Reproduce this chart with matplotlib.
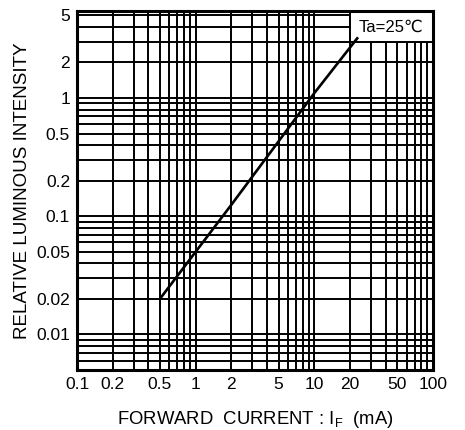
import matplotlib.pyplot as plt
from matplotlib.patches import Rectangle
from matplotlib.ticker import NullFormatter

plt.rcParams['font.family'] = ['Liberation Sans', 'DejaVu Sans']

# forward current (mA) vs relative luminous intensity
current = [0.5, 1, 2, 5, 10, 23]
intensity = [0.02, 0.05, 0.125, 0.43, 1.1, 3.2]

x_ticks = [0.1, 0.2, 0.5, 1, 2, 5, 10, 20, 50, 100]
x_labels = ['0.1', '0.2', '0.5', '1', '2', '5', '10', '20', '50', '100']
y_ticks = [0.01, 0.02, 0.05, 0.1, 0.2, 0.5, 1, 2, 5]
y_labels = ['0.01', '0.02', '0.05', '0.1', '0.2', '0.5', '1', '2', '5']

fig = plt.figure(figsize=(4.65, 4.3), dpi=100)
ax = fig.add_axes([0.1656, 0.1395, 0.7654, 0.8338])

ax.set_xscale('log')
ax.set_yscale('log')
ax.set_xlim(0.1, 100)
ax.set_ylim(0.005, 5.4)

ax.set_xticks(x_ticks)
ax.set_xticklabels(x_labels)
ax.set_yticks(y_ticks)
ax.set_yticklabels(y_labels)
ax.xaxis.set_minor_formatter(NullFormatter())
ax.yaxis.set_minor_formatter(NullFormatter())
ax.tick_params(which='both', length=0, labelsize=12.5, pad=5)

ax.grid(True, which='both', color='black', linewidth=1.4)
ax.set_axisbelow(True)
for s in ax.spines.values():
    s.set_linewidth(2.2)

# white label box over the upper-right cells
ax.add_patch(Rectangle((20, 3), 80, 2.4, facecolor='white', edgecolor='black',
                       linewidth=1.4, zorder=2))
ax.text(44.7, 4.0, 'Ta=25℃', ha='center', va='center', fontsize=12, zorder=3)

ax.plot(current, intensity, color='black', linewidth=1.9, zorder=4)

ax.set_ylabel('RELATIVE LUMINOUS INTENSITY', fontsize=13.5, labelpad=4)
ax.set_xlabel(r'FORWARD  CURRENT : I$_{\mathregular{F}}$  (mA)', fontsize=13.3, labelpad=12)

plt.savefig('out.png', dpi=100)
